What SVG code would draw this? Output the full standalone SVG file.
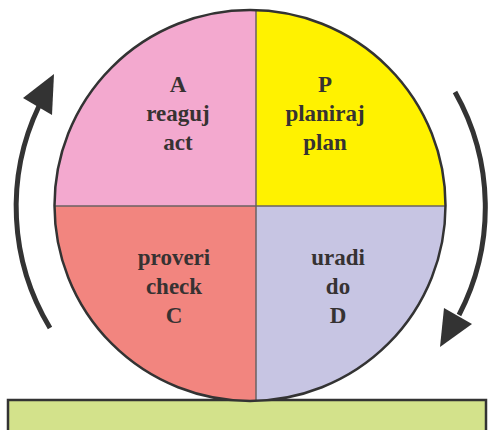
<svg xmlns="http://www.w3.org/2000/svg" width="488" height="430" viewBox="0 0 488 430">
  <style>
    .label { font-family: "Liberation Serif", "Times New Roman", serif; font-weight: bold; font-size: 23px; fill: #363232; text-anchor: middle; }
    .divider { stroke: #6a6262; stroke-width: 1.5; fill: none; }
    .rim { stroke: #333; stroke-width: 2.5; fill: none; }
    .shaft { stroke: #333; stroke-width: 5; fill: none; }
    .head { fill: #333; }
  </style>
  <defs>
    <clipPath id="wheel">
      <circle cx="250" cy="205.5" r="195.5"/>
    </clipPath>
  </defs>

  <rect width="488" height="430" fill="#ffffff"/>

  <!-- ground bar -->
  <g id="ground">
    <rect x="8" y="400" width="478" height="40" fill="#d3e28b" stroke="#333" stroke-width="2.5"/>
  </g>

  <!-- PDCA wheel: four quadrants clipped to the disc -->
  <g id="wheel-quadrants" clip-path="url(#wheel)">
    <g id="act"><rect x="40" y="0" width="216" height="206" fill="#f3a9cf"/></g>
    <g id="plan"><rect x="256" y="0" width="210" height="206" fill="#fff200"/></g>
    <g id="check"><rect x="40" y="206" width="216" height="210" fill="#f2857f"/></g>
    <g id="do"><rect x="256" y="206" width="210" height="210" fill="#c7c5e3"/></g>
    <line class="divider" x1="256" y1="0" x2="256" y2="410"/>
    <line class="divider" x1="40" y1="206" x2="466" y2="206"/>
  </g>
  <circle class="rim" cx="250" cy="205.5" r="195.5"/>

  <!-- quadrant labels -->
  <g id="act-label">
    <text class="label" x="178" y="92">A</text>
    <text class="label" x="178" y="121">reaguj</text>
    <text class="label" x="178" y="150">act</text>
  </g>
  <g id="plan-label">
    <text class="label" x="325" y="92">P</text>
    <text class="label" x="325" y="121">planiraj</text>
    <text class="label" x="325" y="150">plan</text>
  </g>
  <g id="check-label">
    <text class="label" x="174" y="265">proveri</text>
    <text class="label" x="174" y="294">check</text>
    <text class="label" x="174" y="323">C</text>
  </g>
  <g id="do-label">
    <text class="label" x="338" y="265">uradi</text>
    <text class="label" x="338" y="294">do</text>
    <text class="label" x="338" y="323">D</text>
  </g>

  <!-- rotation arrows -->
  <g id="connectors">
    <path class="shaft" d="M 50 328 A 234 234 0 0 1 39 106"/>
    <polygon class="head" points="54,74 23,98 52,115"/>
    <path class="shaft" d="M 455 92 A 234 234 0 0 1 459 315"/>
    <polygon class="head" points="440,347 444,308 472,324"/>
  </g>
</svg>
